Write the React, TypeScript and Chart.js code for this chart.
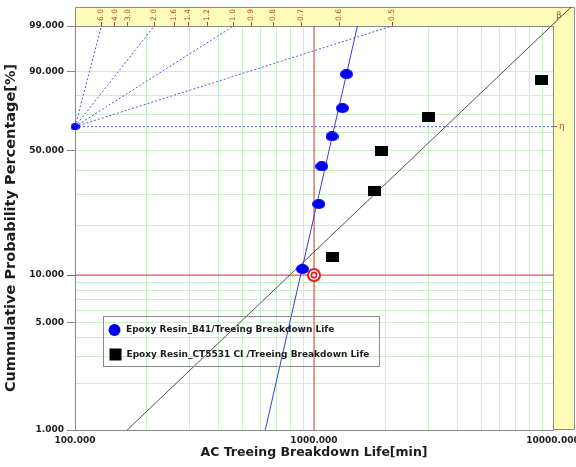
import React, { useEffect, useRef } from 'react';
import { Chart, registerables } from 'chart.js';

Chart.register(...registerables);

// ---------- data ----------
const B41_LIFE = [895, 1048, 1078, 1190, 1315, 1368];
const B41_PCT = [10.9, 26.6, 42.2, 57.8, 73.4, 89.1];
const CT_LIFE = [1195, 1795, 1914, 3000, 8930];
const CT_PCT = [13.0, 31.5, 50.0, 68.5, 87.0];
const B41_BETA = 6.9;
const B41_ETA = 1218;
const CT_BETA = 1.5;
const CT_ETA = 3550;
const SERIES_LABELS = [
  'Epoxy Resin_B41/Treeing Breakdown Life',
  'Epoxy Resin_CT5531 CI /Treeing Breakdown Life',
];
const PCT_GRID = [1, 2, 3, 4, 5, 6, 7, 8, 9, 10, 20, 30, 40, 50, 60, 70, 80, 90, 99];
const PCT_LABELS = [1, 5, 10, 50, 90, 99];
const LIFE_GRID = [
  100, 200, 300, 400, 500, 600, 700, 800, 900,
  1000, 2000, 3000, 4000, 5000, 6000, 7000, 8000, 9000, 10000,
];
const LIFE_LABELS = [100, 1000, 10000];
const BETA_TICKS = [6.0, 4.0, 3.0, 2.0, 1.6, 1.4, 1.2, 1.0, 0.9, 0.8, 0.7, 0.6, 0.5];
const BETA_GUIDES = [6.0, 2.0, 1.0, 0.5];
const LIFE_MIN = 100;
const LIFE_MAX = 10000;
const PCT_MIN = 1;
const PCT_MAX = 99;
const REF_LIFE = 1000;
const REF_PCT = 10;
const CT_FIT_EXTRA = 0.29; // extension of the CT fit line into the beta band

// ---------- helpers ----------
const W = (p: number) => Math.log(-Math.log(1 - p / 100));
const T_MIN = W(PCT_MIN);
const T_MAX = W(PCT_MAX);
const T_REF = W(REF_PCT);

const BLUE_PT = '#0000f0';
const BLUE_LINE = '#3c3cd0';
const BLACK_LINE = '#505050';
const GUIDE = '#5555d5';
const RED = '#e8384a';
const GREEN = '#cbeecb';
const YELLOW = '#fffbb8';
const DARKRED = '#b04a2a';
const GRAY = '#8a8a8a';
const TEXT = '#1c1c1c';
const FONT = '"DejaVu Sans", Verdana, sans-serif';

const isRefPct = (v: number) => Math.abs(v - T_REF) < 1e-6;
const isLabelPct = (v: number) => PCT_LABELS.some((p) => Math.abs(W(p) - v) < 1e-6);

function ellipseImg(w: number, h: number, color: string) {
  const c = document.createElement('canvas');
  c.width = w;
  c.height = h;
  const g = c.getContext('2d')!;
  g.fillStyle = color;
  g.beginPath();
  g.ellipse(w / 2, h / 2, w / 2, h / 2, 0, 0, Math.PI * 2);
  g.fill();
  return c;
}
function rectImg(w: number, h: number, color: string) {
  const c = document.createElement('canvas');
  c.width = w;
  c.height = h;
  const g = c.getContext('2d')!;
  g.fillStyle = color;
  g.fillRect(0, 0, w, h);
  return c;
}
function targetImg() {
  const c = document.createElement('canvas');
  c.width = 16;
  c.height = 16;
  const g = c.getContext('2d')!;
  g.fillStyle = '#ffffff';
  g.beginPath();
  g.arc(8, 8, 7, 0, Math.PI * 2);
  g.fill();
  g.strokeStyle = '#e01818';
  g.lineWidth = 2;
  g.beginPath();
  g.arc(8, 8, 6, 0, Math.PI * 2);
  g.stroke();
  g.lineWidth = 1.6;
  g.beginPath();
  g.arc(8, 8, 2.6, 0, Math.PI * 2);
  g.stroke();
  return c;
}

const fitLine = (beta: number, eta: number, tTop: number) => [
  { x: eta * Math.exp(T_MIN / beta), y: T_MIN },
  { x: eta * Math.exp(tTop / beta), y: tTop },
];

const chromePlugin = {
  id: 'chrome',
  beforeDraw(chart: any) {
    const ctx = chart.ctx;
    const { left, right, top, bottom } = chart.chartArea;
    const bandTop = chart.scales.xt.top;
    const outer = chart.scales.yr.right;
    ctx.save();
    ctx.fillStyle = YELLOW;
    ctx.fillRect(left, bandTop, outer - left, top - bandTop);
    ctx.fillRect(right, bandTop, outer - right, bottom - bandTop);
    ctx.strokeStyle = GRAY;
    ctx.lineWidth = 1;
    ctx.beginPath();
    ctx.moveTo(left + 0.5, top);
    ctx.lineTo(left + 0.5, bandTop + 0.5);
    ctx.lineTo(outer - 0.5, bandTop + 0.5);
    ctx.lineTo(outer - 0.5, bottom - 0.5);
    ctx.lineTo(right, bottom - 0.5);
    ctx.stroke();
    ctx.fillStyle = DARKRED;
    ctx.font = `9px ${FONT}`;
    ctx.textAlign = 'left';
    ctx.textBaseline = 'middle';
    ctx.fillText('\u03b2', right + 3, bandTop + 9);
    ctx.restore();
  },
  afterDatasetsDraw(chart: any) {
    const ctx = chart.ctx;
    const bx = 103.5, by = 316.5, bw = 276, bh = 50;
    ctx.save();
    ctx.strokeStyle = GRAY;
    ctx.lineWidth = 1;
    ctx.strokeRect(bx, by, bw, bh);
    ctx.font = `bold 9px ${FONT}`;
    ctx.textAlign = 'left';
    ctx.textBaseline = 'middle';
    ctx.fillStyle = BLUE_PT;
    ctx.beginPath();
    ctx.arc(bx + 11, by + 13.5, 6, 0, Math.PI * 2);
    ctx.fill();
    ctx.fillStyle = TEXT;
    ctx.fillText(SERIES_LABELS[0], bx + 22.5, by + 13.5);
    ctx.fillStyle = '#000000';
    ctx.fillRect(bx + 6, by + 32, 12, 12);
    ctx.fillStyle = TEXT;
    ctx.fillText(SERIES_LABELS[1], bx + 23, by + 38);
    ctx.restore();
  },
};

export default function App() {
  const ref = useRef<HTMLCanvasElement>(null);

  useEffect(() => {
    document.body.style.margin = '0';
    const blueImg = ellipseImg(13, 10, BLUE_PT);
    const pivotImg = ellipseImg(9, 7, BLUE_PT);
    const blackImg = rectImg(13, 10, '#000000');
    const tgt = targetImg();

    const guides = BETA_GUIDES.map((b) => ({
      label: 'guide' + b,
      data: [
        { x: LIFE_MIN, y: 0 },
        { x: LIFE_MIN * Math.exp(T_MAX / b), y: T_MAX },
      ],
      showLine: true,
      borderColor: GUIDE,
      borderWidth: 1,
      borderDash: [2, 2],
      pointRadius: 0,
    }));

    const chart = new Chart(ref.current!, {
      type: 'scatter',
      data: {
        datasets: [
          {
            label: 'pivot',
            data: [{ x: LIFE_MIN, y: 0 }],
            pointStyle: pivotImg as any,
            pointRadius: 5,
            clip: false as any,
          },
          {
            label: SERIES_LABELS[0],
            data: B41_LIFE.map((x, i) => ({ x, y: W(B41_PCT[i]) })),
            pointStyle: blueImg as any,
            pointRadius: 6,
          },
          {
            label: SERIES_LABELS[1],
            data: CT_LIFE.map((x, i) => ({ x, y: W(CT_PCT[i]) })),
            pointStyle: blackImg as any,
            pointRadius: 6,
          },
          {
            label: 'ref',
            data: [{ x: REF_LIFE, y: T_REF }],
            pointStyle: tgt as any,
            pointRadius: 7,
          },
          {
            label: 'b41fit',
            data: fitLine(B41_BETA, B41_ETA, T_MAX),
            showLine: true,
            borderColor: BLUE_LINE,
            borderWidth: 1,
            pointRadius: 0,
          },
          {
            label: 'ctfit',
            data: fitLine(CT_BETA, CT_ETA, T_MAX + CT_FIT_EXTRA),
            showLine: true,
            borderColor: BLACK_LINE,
            borderWidth: 1,
            pointRadius: 0,
            clip: false as any,
          },
          {
            label: 'eta',
            data: [
              { x: LIFE_MIN, y: 0 },
              { x: LIFE_MAX, y: 0 },
            ],
            showLine: true,
            borderColor: GUIDE,
            borderWidth: 1,
            borderDash: [2, 2],
            pointRadius: 0,
          },
          ...guides,
          {
            label: 'refH',
            data: [
              { x: LIFE_MIN, y: T_REF },
              { x: LIFE_MAX, y: T_REF },
            ],
            showLine: true,
            borderColor: RED,
            borderWidth: 1,
            pointRadius: 0,
          },
          {
            label: 'refV',
            data: [
              { x: REF_LIFE, y: T_MIN },
              { x: REF_LIFE, y: T_MAX },
            ],
            showLine: true,
            borderColor: RED,
            borderWidth: 1,
            pointRadius: 0,
          },
        ] as any,
      },
      options: {
        responsive: false,
        animation: false,
        events: [],
        layout: { padding: { top: 7, right: 1, left: 0, bottom: 0 } },
        plugins: {
          legend: { display: false },
          tooltip: { enabled: false },
        },
        scales: {
          x: {
            type: 'logarithmic',
            position: 'bottom',
            min: LIFE_MIN,
            max: LIFE_MAX,
            afterBuildTicks: (s: any) => {
              s.ticks = LIFE_GRID.map((v) => ({ value: v }));
            },
            afterFit: (s: any) => {
              s.height = 37;
              s.paddingLeft = 0;
              s.paddingRight = 0;
            },
            ticks: {
              autoSkip: false,
              maxRotation: 0,
              minRotation: 0,
              padding: 2,
              color: TEXT,
              font: { family: FONT, size: 9, weight: 'bold' },
              callback: (v: any) => (LIFE_LABELS.includes(Number(v)) ? Number(v).toFixed(3) : ''),
            },
            grid: {
              color: GREEN,
              tickLength: 3,
              tickColor: 'rgba(0,0,0,0)',
            },
            border: { color: GRAY },
            title: {
              display: true,
              text: 'AC Treeing Breakdown Life[min]',
              color: TEXT,
              font: { family: FONT, size: 12.5, weight: 'bold' },
              padding: { top: 0, bottom: 7 },
            },
          },
          y: {
            type: 'linear',
            position: 'left',
            min: T_MIN,
            max: T_MAX,
            afterBuildTicks: (s: any) => {
              s.ticks = PCT_GRID.map((p) => ({ value: W(p) }));
            },
            afterFit: (s: any) => {
              s.width = 75;
              s.paddingTop = 0;
              s.paddingBottom = 0;
            },
            ticks: {
              autoSkip: false,
              padding: 3,
              color: TEXT,
              font: { family: FONT, size: 9, weight: 'bold' },
              callback: (_v: any, i: number) =>
                PCT_LABELS.includes(PCT_GRID[i]) ? PCT_GRID[i].toFixed(3) : '',
            },
            grid: {
              color: GREEN,
              tickLength: 8,
              tickColor: (c: any) =>
                c.tick && isRefPct(c.tick.value)
                  ? RED
                  : c.tick && isLabelPct(c.tick.value)
                  ? GRAY
                  : 'rgba(0,0,0,0)',
            },
            border: { color: GRAY },
            title: {
              display: true,
              text: 'Cummulative Probability Percentage[%]',
              color: TEXT,
              font: { family: FONT, size: 14.5, weight: 'bold' },
              padding: { top: 3, bottom: 0 },
            },
          },
          yr: {
            type: 'linear',
            position: 'right',
            min: T_MIN,
            max: T_MAX,
            afterBuildTicks: (s: any) => {
              s.ticks = [{ value: 0 }];
            },
            afterFit: (s: any) => {
              s.width = 22;
              s.paddingTop = 0;
              s.paddingBottom = 0;
            },
            ticks: {
              padding: 2,
              color: DARKRED,
              font: { family: FONT, size: 9 },
              callback: () => '\u03b7',
            },
            grid: { drawOnChartArea: false, tickLength: 4, tickColor: DARKRED },
            border: { color: GRAY },
          },
          xt: {
            type: 'linear',
            position: 'top',
            min: 0,
            max: Math.log(LIFE_MAX / LIFE_MIN) / T_MAX,
            afterBuildTicks: (s: any) => {
              s.ticks = BETA_TICKS.map((b) => ({ value: 1 / b }));
            },
            afterFit: (s: any) => {
              s.height = 19;
              s.paddingLeft = 0;
              s.paddingRight = 0;
            },
            ticks: {
              autoSkip: false,
              minRotation: 90,
              maxRotation: 90,
              padding: 1,
              labelOffset: 9,
              color: DARKRED,
              font: { family: FONT, size: 7.5 },
              callback: (_v: any, i: number) => BETA_TICKS[i].toFixed(1),
            },
            grid: { drawOnChartArea: false, tickLength: 4, tickColor: DARKRED },
            border: { color: GRAY },
          },
        } as any,
      },
      plugins: [chromePlugin],
    });
    return () => chart.destroy();
  }, []);

  return (
    <div style={{ position: 'absolute', left: 0, top: 0, width: 576, height: 467, background: '#ffffff' }}>
      <canvas ref={ref} width={576} height={467} style={{ display: 'block' }} />
    </div>
  );
}
